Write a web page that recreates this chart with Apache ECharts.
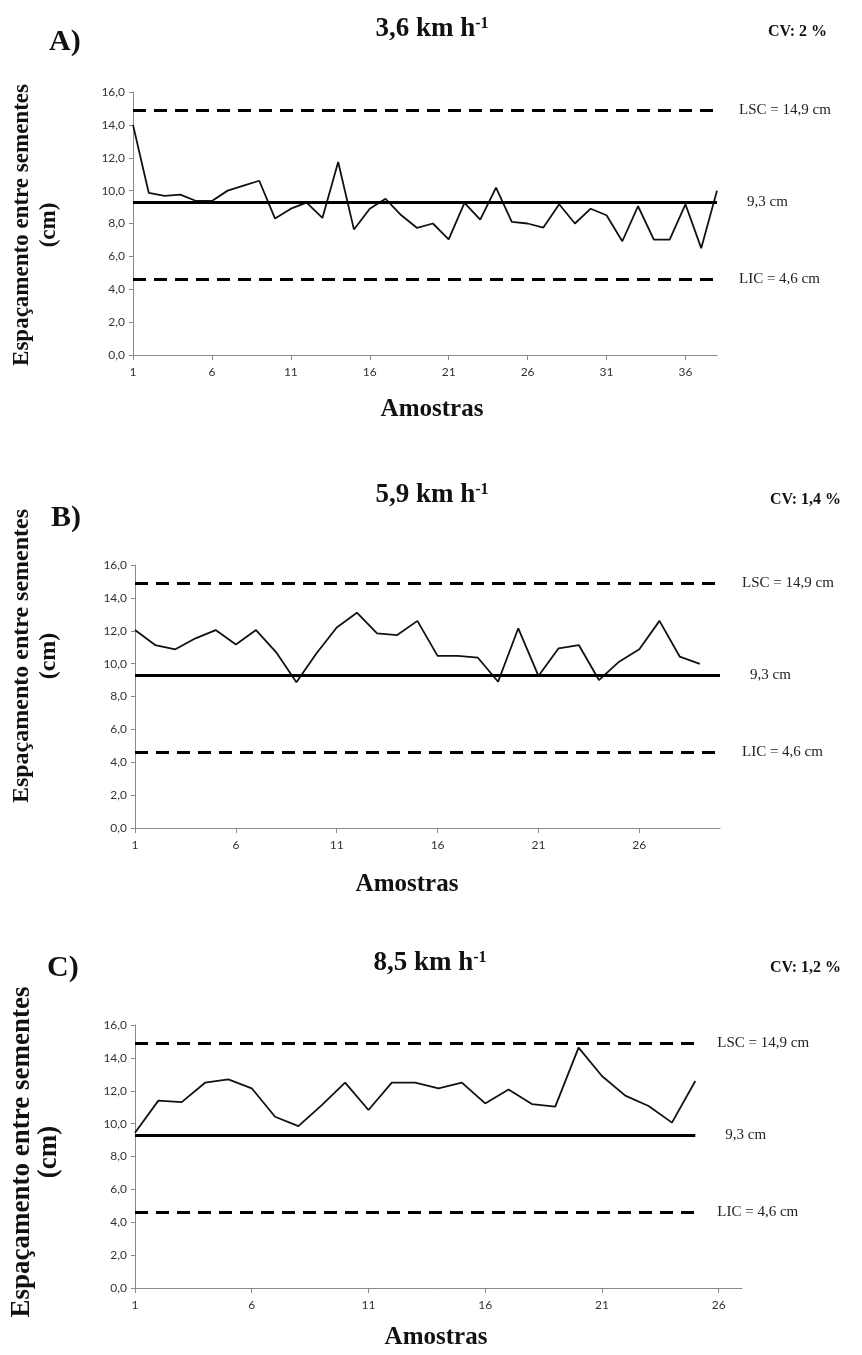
<!DOCTYPE html>
<html><head><meta charset="utf-8">
<script src="https://cdn.jsdelivr.net/npm/echarts@6/dist/echarts.min.js"></script>
<style>html,body{margin:0;padding:0;background:#fff}#c{width:862px;height:1355px}</style>
</head><body><div id="c"></div>
<script>
// ---------- DATA ----------
const samplesA = [1,2,3,4,5,6,7,8,9,10,11,12,13,14,15,16,17,18,19,20,21,22,23,24,25,26,27,28,29,30,31,32,33,34,35,36,37,38];
const spacingA = [14.0,9.86,9.68,9.76,9.37,9.37,10.0,10.3,10.6,8.3,8.9,9.27,8.34,11.74,7.63,8.9,9.5,8.5,7.73,8.0,7.04,9.25,8.24,10.18,8.1,8.0,7.75,9.17,8.0,8.9,8.5,6.92,9.05,7.02,7.02,9.17,6.5,10.0];
const samplesB = [1,2,3,4,5,6,7,8,9,10,11,12,13,14,15,16,17,18,19,20,21,22,23,24,25,26,27,28,29,30];
const spacingB = [12.04,11.13,10.87,11.54,12.04,11.17,12.04,10.69,8.87,10.63,12.2,13.1,11.84,11.74,12.6,10.47,10.47,10.36,8.9,12.15,9.25,10.93,11.13,9.0,10.12,10.87,12.6,10.43,9.98];
const samplesC = [1,2,3,4,5,6,7,8,9,10,11,12,13,14,15,16,17,18,19,20,21,22,23,24,25,26,27];
const spacingC = [9.45,11.4,11.31,12.49,12.69,12.15,10.42,9.85,11.13,12.49,10.83,12.49,12.49,12.15,12.49,11.23,12.08,11.19,11.03,14.62,12.9,11.7,11.07,10.06,12.59];
const controlValues = [14.9, 9.3, 4.6];
const controlLabels = ['LSC = 14,9 cm', '9,3 cm', 'LIC = 4,6 cm'];
const controlEndSample = [38, 30, 25];
const panelLetters = ['A)', 'B)', 'C)'];
const speeds = ['3,6', '5,9', '8,5'];
const cvLabels = ['CV: 2 %', 'CV: 1,4 %', 'CV: 1,2 %'];
const yTitle = 'Espaçamento entre sementes';
const yUnit = '(cm)';
const xTitle = 'Amostras';

// ---------- LAYOUT ----------
const SERIF = '"Liberation Serif","Times New Roman",serif';
const SANS = 'Lato, "Open Sans", sans-serif';
const panels = [
  {cats: samplesA, vals: spacingA, grid: {left:133, top:92, width:584, height:263},
   letter:{x:49,y:42}, title:{x:432,y:29}, cv:{x:768,y:32}, ytitle:{y:225, size:23}, xname:{x:432, y:410}},
  {cats: samplesB, vals: spacingB, grid: {left:135, top:565, width:585, height:263},
   letter:{x:51,y:518}, title:{x:432,y:495}, cv:{x:770,y:500}, ytitle:{y:656, size:24}, xname:{x:407, y:885}},
  {cats: samplesC, vals: spacingC, grid: {left:135, top:1025, width:607, height:263},
   letter:{x:47,y:968}, title:{x:430,y:963}, cv:{x:770,y:968}, ytitle:{y:1152, size:27}, xname:{x:436, y:1338}}
];
const labelDist = [22, 22, 22];

const grids = [], xAxes = [], yAxes = [], series = [], graphics = [];
panels.forEach((p, i) => {
  grids.push(Object.assign({containLabel:false}, p.grid));
  xAxes.push({
    type:'category', gridIndex:i, data:p.cats.map(String), boundaryGap:false,
    axisLine:{lineStyle:{color:'#8a8a8a', width:1}},
    axisTick:{show:true, interval:4, length:5, lineStyle:{color:'#8a8a8a'}},
    axisLabel:{interval:4, color:'#333', fontFamily:SANS, fontSize:12, margin:11},
    splitLine:{show:false}
  });
  yAxes.push({
    type:'value', gridIndex:i, min:0, max:16, interval:2,
    axisLine:{show:true, lineStyle:{color:'#8a8a8a', width:1}},
    axisTick:{show:true, length:4, lineStyle:{color:'#8a8a8a'}},
    axisLabel:{color:'#333', fontFamily:SANS, fontSize:12, margin:8,
      formatter: v => v.toFixed(1).replace('.', ',')},
    splitLine:{show:false}
  });
  const endIdx = controlEndSample[i] - 1;
  series.push({
    type:'line', xAxisIndex:i, yAxisIndex:i, data:p.vals, showSymbol:false, symbol:'none',
    lineStyle:{color:'#111', width:1.8}, animation:false, silent:true,
    markLine:{
      silent:true, symbol:'none', animation:false,
      data: controlValues.map((v, k) => [
        {coord:[0, v], lineStyle:{type: k===1 ? 'solid' : [13, 8], width:3, color:'#000'},
         label:{show:true, position:'end', formatter: controlLabels[k], distance: k===1 ? labelDist[i]+8 : labelDist[i],
           color:'#222', fontFamily:SERIF, fontSize:15}},
        {coord:[endIdx, v]}
      ])
    }
  });
  graphics.push(
    {type:'text', x:p.letter.x, y:p.letter.y, style:{text:panelLetters[i], font:'bold 30px '+SERIF, fill:'#111', align:'left', verticalAlign:'middle'}},
    {type:'text', x:p.title.x, y:p.title.y, style:{
      text:'{b|'+speeds[i]+' km h}{s|-1}', align:'center', verticalAlign:'middle',
      rich:{b:{fontFamily:SERIF, fontWeight:'bold', fontSize:27, fill:'#111'},
            s:{fontFamily:SERIF, fontWeight:'bold', fontSize:16, fill:'#111', verticalAlign:'top'}}}},
    {type:'text', x:p.cv.x, y:p.cv.y, style:{text:cvLabels[i], font:'bold 16px '+SERIF, fill:'#111', align:'left', verticalAlign:'middle'}},
    {type:'text', x:22, y:p.ytitle.y, rotation:Math.PI/2, style:{text:yTitle, font:'bold '+p.ytitle.size+'px '+SERIF, fill:'#111', align:'center', verticalAlign:'middle'}},
    {type:'text', x:49, y:p.ytitle.y, rotation:Math.PI/2, style:{text:yUnit, font:'bold '+p.ytitle.size+'px '+SERIF, fill:'#111', align:'center', verticalAlign:'middle'}},
    {type:'text', x:p.xname.x, y:p.xname.y, style:{text:xTitle, font:'bold 25px '+SERIF, fill:'#111', align:'center', verticalAlign:'middle'}}
  );
});

const chart = echarts.init(document.getElementById('c'), null, {renderer:'canvas'});
chart.setOption({
  animation:false, backgroundColor:'#fff',
  grid:grids, xAxis:xAxes, yAxis:yAxes, series:series, graphic:graphics
});
</script></body></html>
